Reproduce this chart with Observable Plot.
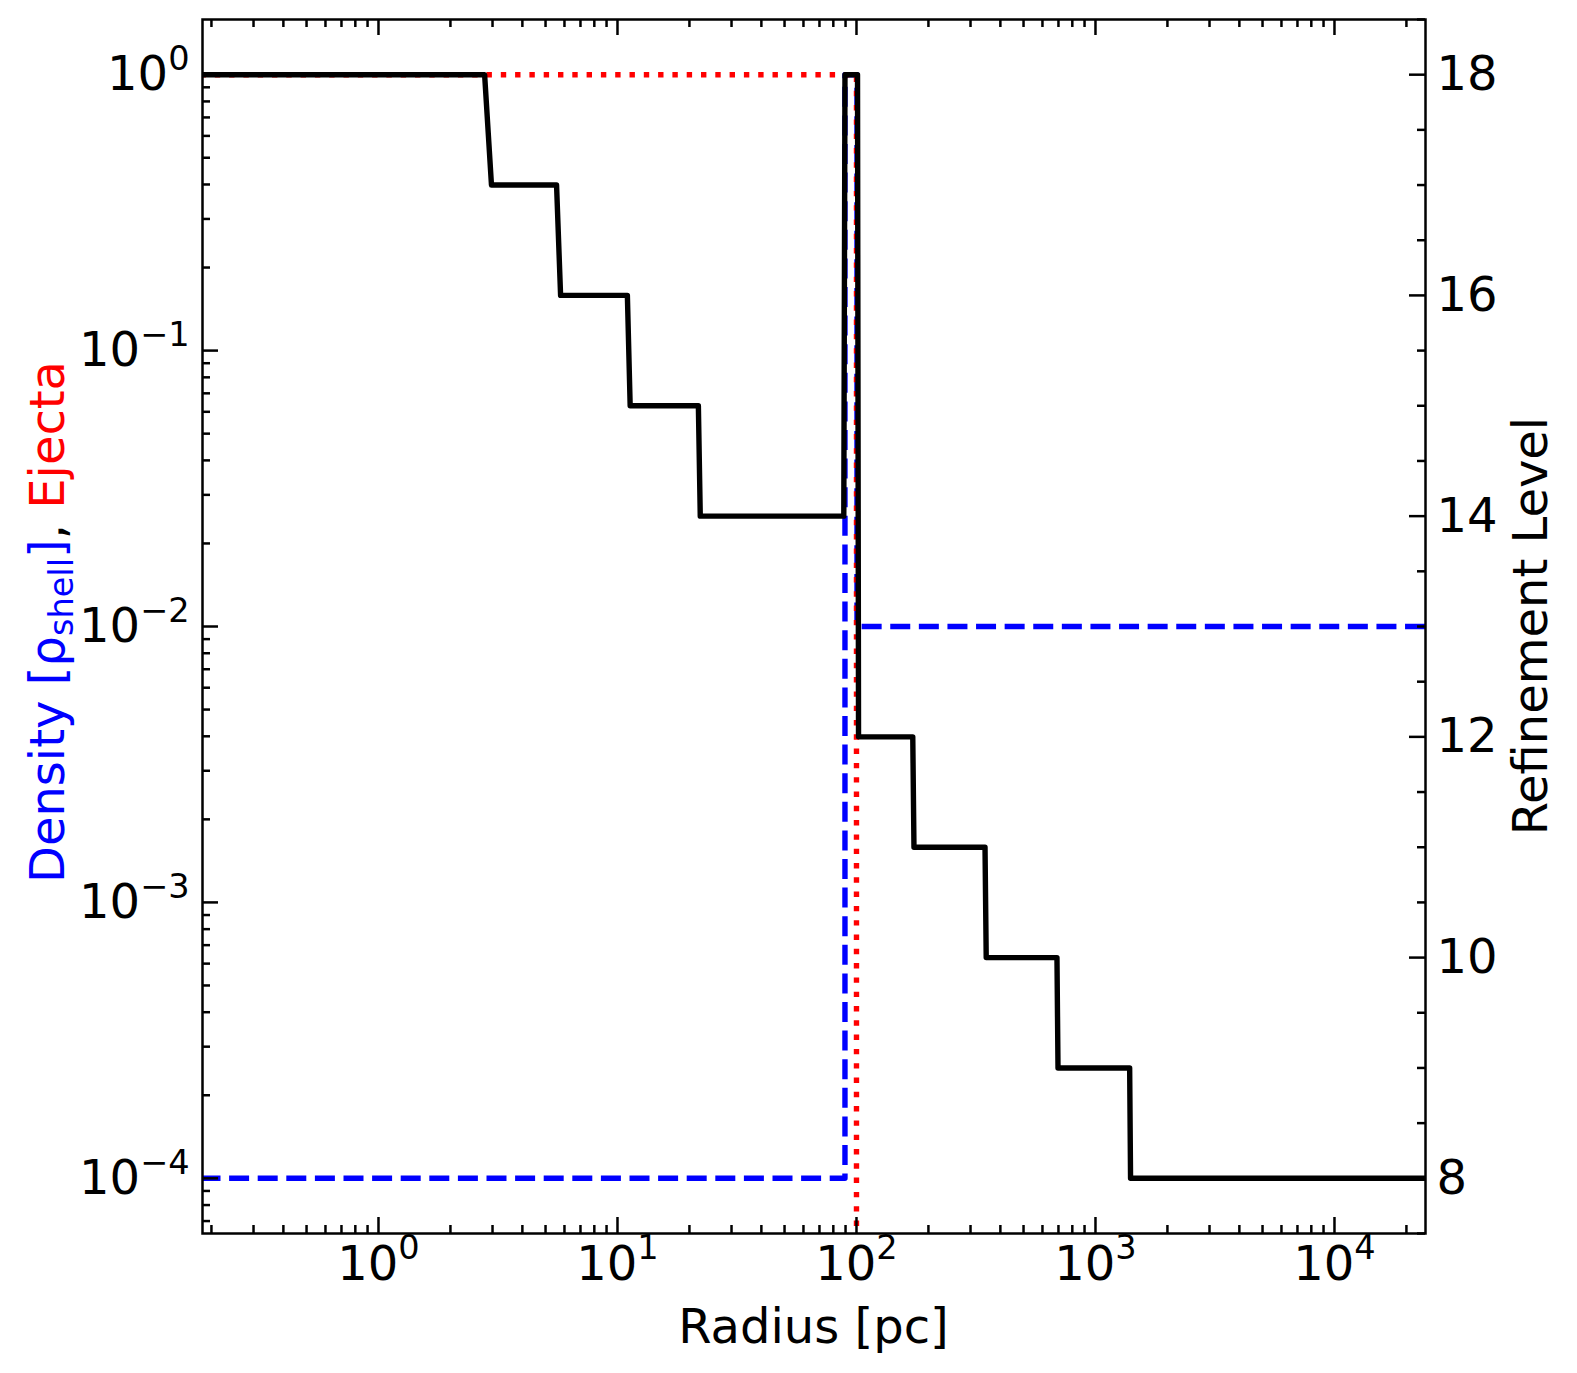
<!DOCTYPE html>
<html><head><meta charset="utf-8">
<script src="https://cdn.jsdelivr.net/npm/d3@7"></script>
<script src="https://cdn.jsdelivr.net/npm/@observablehq/plot@0.6"></script>
<style>
html,body{margin:0;padding:0;background:#fff;}
#wrap{position:relative;width:1577px;height:1373px;overflow:hidden;}
#wrap svg{position:absolute;left:0;top:0;}
</style></head><body><div id="wrap"></div>
<script>
// ---- data ----
const densityRadius = [0.18, 89.5, 89.5, 100.5, 100.5, 25000];
const densityValue  = [1e-4, 1e-4, 1, 1, 1e-2, 1e-2];
const ejectaRadius  = [0.18, 100, 100];
const ejectaValue   = [1, 1, 1e-12];
const levelRadius = [0.18, 2.78, 2.97, 5.56, 5.78, 11.0, 11.3, 21.8, 22.2, 88.5, 89.5, 101, 102, 172, 174, 345, 349, 690, 697, 1390, 1402, 25000];
const levelValue  = [18, 18, 17, 17, 16, 16, 15, 15, 14, 14, 18, 18, 12, 12, 11, 11, 10, 10, 9, 9, 8, 8];
const xTickValues = [1, 10, 100, 1000, 10000];
const yTickValues = [1e-4, 1e-3, 1e-2, 1e-1, 1];
const levelTickValues = [8, 10, 12, 14, 16, 18];
const xLabel = "Radius [pc]";
const rightLabel = "Refinement Level";

// ---- layout ----
const W = 1577, H = 1373;
const mL = 202, mR = 152, mT = 19, mB = 140;
const pw = W - mL - mR, ph = H - mT - mB;
const xDomain = [0.1835, 24036];
const yDomain = [Math.pow(10, -4.2), Math.pow(10, 0.2)];
const levelDomain = [7.5, 18.5];
const FONT = "DejaVu Sans";
const majorLen = 16, minorLen = 8, axisW = 2.5, lw = 5.4;

function logMinors(lo, hi) {
  const out = [];
  for (let k = -6; k <= 6; k++) for (let m = 2; m <= 9; m++) {
    const v = m * Math.pow(10, k);
    if (v >= lo && v <= hi) out.push(v);
  }
  return out;
}
const xMinor = logMinors(xDomain[0], xDomain[1]);
const yMinor = logMinors(yDomain[0], yDomain[1]);
const levelMinor = d3.range(7.5, 18.51, 0.5).filter(v => v % 2 !== 0);

const expFmt = d => {
  const k = Math.round(Math.log10(d));
  return "10^" + (k < 0 ? "\u2212" + (-k) : String(k));
};

const rows = (xs, ys) => xs.map((x, i) => ({x, y: ys[i]}));

const base = Plot.plot({
  width: W, height: H,
  marginLeft: mL, marginRight: mR, marginTop: mT, marginBottom: mB,
  style: {fontFamily: FONT, fontSize: "48px", background: "white"},
  x: {type: "log", domain: xDomain, label: null},
  y: {type: "log", domain: yDomain, label: null},
  marks: [
    Plot.line(rows(densityRadius, densityValue), {x: "x", y: "y", stroke: "#0000ff", strokeWidth: lw,
      strokeDasharray: "20,8.6", strokeLinecap: "butt", strokeLinejoin: "round", clip: true}),
    Plot.line(rows(ejectaRadius, ejectaValue), {x: "x", y: "y", stroke: "#ff0000", strokeWidth: lw,
      strokeDasharray: "5.4,8.9", strokeLinecap: "butt", strokeLinejoin: "round", clip: true}),
    // inward ticks, left (density)
    Plot.tickY(yTickValues, {y: d => d, insetRight: pw - majorLen, stroke: "black", strokeWidth: axisW}),
    Plot.tickY(yMinor, {y: d => d, insetRight: pw - minorLen, stroke: "black", strokeWidth: axisW}),
    // inward ticks, bottom & top (radius)
    Plot.tickX(xTickValues, {x: d => d, insetTop: ph - majorLen, stroke: "black", strokeWidth: axisW}),
    Plot.tickX(xMinor, {x: d => d, insetTop: ph - minorLen, stroke: "black", strokeWidth: axisW}),
    Plot.tickX(xTickValues, {x: d => d, insetBottom: ph - majorLen, stroke: "black", strokeWidth: axisW}),
    Plot.tickX(xMinor, {x: d => d, insetBottom: ph - minorLen, stroke: "black", strokeWidth: axisW}),
    Plot.axisX(xTickValues, {anchor: "bottom", tickSize: 0, tickPadding: 12, tickFormat: expFmt,
      fontSize: 48, fontFamily: FONT, fill: "black", label: null}),
    Plot.axisY(yTickValues, {anchor: "left", tickSize: 0, tickPadding: 13, tickFormat: expFmt,
      fontSize: 48, fontFamily: FONT, fill: "black", label: null}),
    Plot.frame({stroke: "black", strokeWidth: axisW})
  ]
});

const over = Plot.plot({
  width: W, height: H,
  marginLeft: mL, marginRight: mR, marginTop: mT, marginBottom: mB,
  style: {fontFamily: FONT, fontSize: "48px", background: "transparent"},
  x: {type: "log", domain: xDomain, label: null, axis: null},
  y: {type: "linear", domain: levelDomain, label: null},
  marks: [
    Plot.line(rows(levelRadius, levelValue), {x: "x", y: "y", stroke: "black", strokeWidth: lw,
      strokeLinecap: "square", strokeLinejoin: "round", clip: true}),
    Plot.tickY(levelTickValues, {y: d => d, insetLeft: pw - majorLen, stroke: "black", strokeWidth: axisW}),
    Plot.tickY(levelMinor, {y: d => d, insetLeft: pw - minorLen, stroke: "black", strokeWidth: axisW}),
    Plot.axisY(levelTickValues, {anchor: "right", tickSize: 0, tickPadding: 11, tickFormat: d => String(d),
      fontSize: 48, fontFamily: FONT, fill: "black", label: null})
  ]
});

const wrap = document.getElementById("wrap");
wrap.appendChild(base);
wrap.appendChild(over);

const NS = "http://www.w3.org/2000/svg";
// superscripts for 10^k labels
base.querySelectorAll("text").forEach(t => {
  const s = t.textContent;
  const i = s.indexOf("^");
  if (i < 0) return;
  while (t.firstChild) t.removeChild(t.firstChild);
  t.appendChild(document.createTextNode(s.slice(0, i)));
  const sp = document.createElementNS(NS, "tspan");
  sp.setAttribute("font-size", "0.7em");
  sp.setAttribute("dy", "-0.6em");
  sp.textContent = s.slice(i + 1);
  t.appendChild(sp);
});

const sb = d3.select(base);
// x label
sb.append("text").attr("x", mL + pw / 2).attr("y", 1343).attr("text-anchor", "middle")
  .attr("font-family", FONT).attr("font-size", 48).attr("fill", "black").text(xLabel);
// left y label (multi-coloured)
const yl = sb.append("text").attr("transform", "translate(64,622) rotate(-90)")
  .attr("text-anchor", "middle").attr("font-family", FONT).attr("font-size", 48);
yl.append("tspan").attr("fill", "#0000ff").text("Density [\u03c1");
yl.append("tspan").attr("fill", "#0000ff").attr("font-size", 33.6).attr("dy", 9).text("shell");
yl.append("tspan").attr("fill", "#0000ff").attr("dy", -9).text("]");
yl.append("tspan").attr("fill", "black").text(", ");
yl.append("tspan").attr("fill", "#ff0000").text("Ejecta");
// right y label
d3.select(over).append("text").attr("transform", "translate(1547,626) rotate(-90)")
  .attr("text-anchor", "middle").attr("font-family", FONT).attr("font-size", 48).attr("fill", "black")
  .text(rightLabel);
</script></body></html>
